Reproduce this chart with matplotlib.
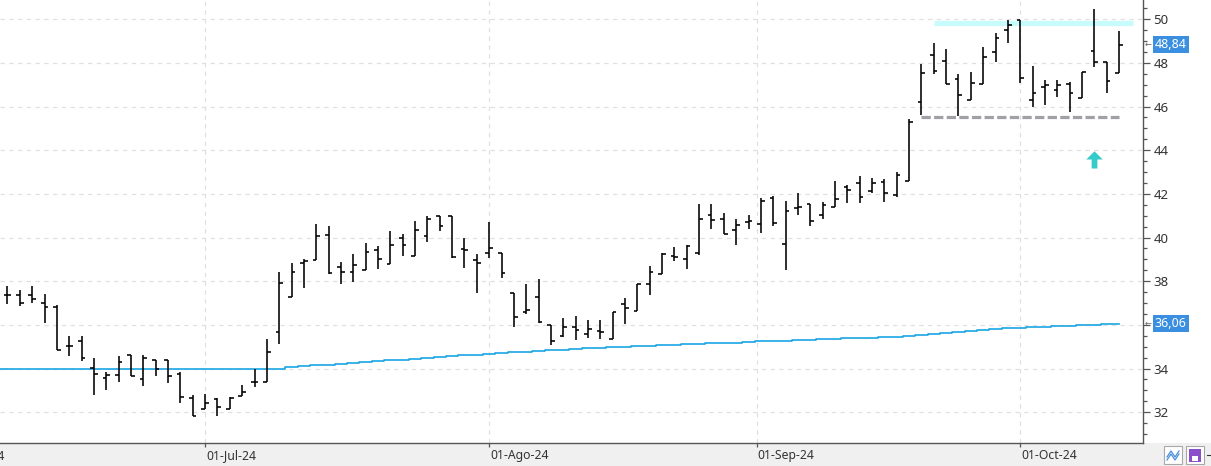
import numpy as np
import pandas as pd
import matplotlib
matplotlib.use("Agg")
import matplotlib.pyplot as plt
from matplotlib.path import Path
from matplotlib.patches import Rectangle

plt.rcParams['font.family'] = ['Noto Sans', 'DejaVu Sans']

# ---------------- data ----------------
start_date = "2024-06-07"
end_date = "2024-10-11"

opens = [37.35, 37.35, 37.35, 36.98, 36.83, 35.03, 35.26, 34.03, 33.55, 33.71,
         34.62, 33.53, 34.40, 34.40, 33.74, 32.67, 32.17, 32.60, 32.17, 32.75,
         33.40, 33.40, 35.68, 37.27, 38.82, 38.97, 40.11, 38.66, 38.44, 38.50,
         39.45, 38.80, 39.98, 39.17, 40.09, 40.97, 40.98, 39.48, 38.98, 39.27,
         39.27, 37.44, 36.60, 37.26, 35.98, 35.47, 35.92, 35.59, 35.74, 35.36,
         36.95, 36.64, 37.86, 38.32, 39.17, 39.00, 39.29, 41.02, 40.86, 40.36,
         40.73, 40.63, 41.80, 39.70, 41.34, 41.53, 41.02, 41.39, 42.32, 42.50,
         42.13, 42.56, 41.94, 42.59, 46.20, 48.35, 48.08, 47.25, 46.31, 47.02,
         48.49, 49.51, 49.97, 46.31, 46.89, 46.76, 47.04, 46.37, 48.53, 48.06,
         47.54]
highs = [37.77, 37.59, 37.77, 37.41, 36.89, 35.50, 35.47, 34.50, 33.86, 34.58,
         34.62, 34.62, 34.40, 34.40, 33.85, 32.79, 32.82, 32.63, 32.70, 33.23,
         33.96, 35.36, 38.42, 38.82, 39.00, 40.64, 40.55, 38.86, 39.24, 39.77,
         39.59, 40.32, 40.18, 40.77, 41.00, 41.00, 40.98, 39.98, 39.26, 40.73,
         39.27, 37.44, 37.85, 38.08, 35.98, 36.32, 36.39, 36.21, 36.21, 36.61,
         37.24, 37.86, 38.70, 39.27, 39.55, 39.68, 41.52, 41.55, 41.14, 40.86,
         41.02, 41.80, 41.92, 41.68, 42.03, 41.53, 41.62, 42.59, 42.41, 42.80,
         42.71, 42.68, 42.99, 45.42, 47.95, 48.90, 48.63, 47.50, 47.57, 48.72,
         49.36, 49.97, 49.97, 47.86, 47.21, 47.21, 47.13, 47.59, 50.46, 48.06,
         49.48]
lows = [36.94, 36.88, 37.02, 36.10, 34.83, 34.59, 34.33, 32.77, 33.02, 33.38,
        33.65, 33.20, 33.68, 33.35, 32.40, 31.84, 32.17, 31.84, 32.14, 32.75,
        33.17, 33.40, 35.14, 37.27, 37.69, 38.97, 38.33, 37.89, 37.98, 38.50,
        38.56, 38.80, 39.15, 39.17, 39.79, 40.29, 39.08, 38.61, 37.47, 39.06,
        38.15, 35.92, 36.52, 36.08, 35.06, 35.44, 35.33, 35.41, 35.35, 35.36,
        36.06, 36.64, 37.39, 38.32, 38.94, 38.58, 39.18, 40.39, 40.17, 39.68,
        40.41, 40.20, 40.51, 38.50, 41.01, 40.54, 40.84, 41.39, 41.60, 41.56,
        42.03, 41.65, 41.86, 42.59, 45.62, 47.50, 47.02, 45.57, 46.31, 47.02,
        48.02, 48.90, 47.10, 46.00, 46.09, 46.46, 45.73, 46.37, 47.83, 46.60,
        47.54]
closes = [37.35, 37.02, 37.20, 36.80, 34.85, 35.03, 34.47, 33.74, 33.71, 34.32,
          33.65, 34.47, 34.00, 33.68, 32.71, 31.84, 32.44, 32.22, 32.66, 32.94,
          33.40, 34.76, 37.91, 38.44, 38.92, 40.06, 38.36, 38.44, 38.74, 39.32,
          39.03, 39.68, 39.64, 40.35, 40.85, 40.53, 39.11, 39.44, 38.85, 39.53,
          38.36, 36.35, 36.68, 36.15, 35.26, 35.89, 35.77, 35.82, 35.68, 36.61,
          36.79, 37.86, 38.44, 39.24, 39.12, 39.61, 40.86, 40.82, 40.18, 40.56,
          40.76, 41.69, 40.66, 41.22, 41.39, 40.76, 41.48, 41.78, 42.16, 41.84,
          42.51, 42.03, 42.85, 45.27, 47.53, 47.62, 47.04, 46.55, 47.07, 48.29,
          49.13, 49.73, 47.30, 46.61, 46.98, 46.98, 46.60, 47.59, 48.03, 47.18,
          48.84]
moving_avg = [34.00, 34.00, 34.00, 34.00, 34.00, 34.00, 34.00, 34.00, 34.00, 34.00,
              34.00, 34.00, 34.00, 34.00, 34.00, 34.00, 34.00, 34.00, 34.00, 34.00,
              34.00, 34.00, 34.00, 34.07, 34.12, 34.15, 34.17, 34.22, 34.26, 34.31,
              34.35, 34.38, 34.41, 34.45, 34.50, 34.54, 34.58, 34.61, 34.64, 34.68,
              34.72, 34.75, 34.78, 34.81, 34.83, 34.85, 34.88, 34.92, 34.95, 34.97,
              35.00, 35.02, 35.04, 35.06, 35.08, 35.11, 35.13, 35.15, 35.17, 35.19,
              35.22, 35.24, 35.26, 35.28, 35.30, 35.32, 35.34, 35.36, 35.38, 35.40,
              35.41, 35.43, 35.45, 35.50, 35.55, 35.60, 35.64, 35.68, 35.72, 35.76,
              35.80, 35.85, 35.87, 35.89, 35.92, 35.95, 35.97, 35.99, 36.01, 36.04,
              36.06]

month_dates = ["2024-06-01", "2024-07-01", "2024-08-01", "2024-09-01", "2024-10-01"]
month_labels = ["01-Jun-24", "01-Jul-24", "01-Ago-24", "01-Sep-24", "01-Oct-24"]

support_level = 45.5
support_from, support_to = 74, 90
resistance_level = 49.83
resistance_from, resistance_to = 75, 91.1
signal_bar = 88
signal_price = 43.6

y_major = [32, 34, 36, 38, 40, 42, 44, 46, 48, 50]

# ---------------- layout ----------------
W, H = 1211, 466
fig = plt.figure(figsize=(W / 100, H / 100), dpi=100, facecolor='white')
ax_right_px, ax_bottom_px = 1143, 23
ax = fig.add_axes([0, ax_bottom_px / H, ax_right_px / W, (H - ax_bottom_px) / H])
ax.set_facecolor('white')
ax.set_zorder(2)

fig.patches.append(Rectangle((0, 0), 1, ax_bottom_px / H, transform=fig.transFigure,
                             facecolor='#f0f0f0', edgecolor='none', zorder=-5))

dates = pd.bdate_range(start_date, end_date)
n = len(dates)
x = np.arange(n)

# map month start dates onto bar index (calendar interpolation)
ext_dates = pd.bdate_range(pd.Timestamp(start_date) - pd.tseries.offsets.BDay(10), end_date)
ext_idx = np.arange(len(ext_dates)) - 10
ext_num = ext_dates.values.astype('datetime64[D]').astype(float)
mpos = [float(np.interp(np.datetime64(d, 'D').astype(float), ext_num, ext_idx)) for d in month_dates]

XMIN, XMAX = -0.607, 91.94
YMIN, YMAX = 30.59, 50.88

# grid
grid_kw = dict(color='#e0e0e0', lw=0.9, ls=(0, (3.5, 3.5)), zorder=0)
for v in y_major:
    ax.axhline(v, **grid_kw)
for p in mpos:
    if XMIN <= p <= XMAX:
        ax.axvline(p, **grid_kw)

# moving average (continues from before the first visible bar)
ma_color = '#1aa6e4'
ax.hlines(moving_avg[0], XMIN, 0, color=ma_color, lw=1.2, zorder=2)
ax.plot(x, moving_avg, color=ma_color, lw=1.2, zorder=2, drawstyle='steps-mid')

# OHLC bars
w = 0.3
bar_lw = 1.15
ax.vlines(x, lows, highs, color='black', lw=bar_lw, zorder=3)
ax.hlines(opens, x - w, x, color='black', lw=bar_lw, zorder=3)
ax.hlines(closes, x, x + w, color='black', lw=bar_lw, zorder=3)

# support (dashed grey) and resistance (cyan band)
ax.plot([support_from, support_to], [support_level, support_level], color='#a0a0a6',
        lw=2.3, dashes=(2.9, 1.05), solid_capstyle='butt', dash_capstyle='butt', zorder=2)
ax.plot([resistance_from, resistance_to], [resistance_level, resistance_level],
        color='#c8fbfb', lw=3.8, solid_capstyle='butt', zorder=1)

# up arrow signal
arrow = Path([(-1, 0), (0, 1), (1, 0), (0.35, 0), (0.35, -1.1), (-0.35, -1.1), (-0.35, 0), (-1, 0)],
             [Path.MOVETO] + [Path.LINETO] * 6 + [Path.CLOSEPOLY])
ax.plot([signal_bar], [signal_price], marker=arrow, markersize=13, color='#35cbc9',
        markeredgewidth=0, zorder=4)

# y axis on the right
ax.yaxis.tick_right()
ax.set_yticks(y_major)
ax.set_yticklabels(['' if v == 36 else str(v) for v in y_major])
ax.set_yticks(np.arange(31, 51, 0.5), minor=True)
ax.tick_params(axis='y', which='major', length=5, width=0.9, color='#555555',
               labelsize=9.5, labelcolor='#333333', pad=2.5)
ax.tick_params(axis='y', which='minor', length=3, width=0.9, color='#555555')

# x axis ticks
ax.set_xticks([p for p in mpos if XMIN <= p <= XMAX])
ax.set_xticklabels([])
ax.tick_params(axis='x', which='major', length=3, width=0.9, color='#555555')
ax.set_xlim(XMIN, XMAX)
ax.set_ylim(YMIN, YMAX)
for p, lab in zip(mpos, month_labels):
    ax.text(p + 0.08, -0.028, lab, transform=ax.get_xaxis_transform(), ha='left', va='center',
            fontsize=8.8, color='#333333', clip_on=False)

for s in ['top', 'left']:
    ax.spines[s].set_visible(False)
ax.spines['right'].set_color('#555555')
ax.spines['bottom'].set_color('#555555')
ax.spines['right'].set_linewidth(1.0)
ax.spines['bottom'].set_linewidth(1.0)

# last-value tags
def tag(val, txt):
    ax.annotate(txt, xy=(1.0, val), xycoords=('axes fraction', 'data'),
                xytext=(8.5, 0), textcoords='offset points', ha='left', va='center',
                fontsize=9, color='white', annotation_clip=False,
                bbox=dict(boxstyle='square,pad=0.15', fc='#3b8fe0', ec='none'))
    ax.annotate('\u2190', xy=(1.0, val), xycoords=('axes fraction', 'data'),
                xytext=(1.5, 0), textcoords='offset points', ha='left', va='center',
                fontsize=6, color='#666666', annotation_clip=False)

tag(closes[-1], f"{closes[-1]:.2f}".replace('.', ','))
tag(moving_avg[-1], f"{moving_avg[-1]:.2f}".replace('.', ','))

# toolbar icons bottom right
def fpx(xp, yp):
    return xp / W, yp / H
fig.patches.append(Rectangle(fpx(1164, 2), 18 / W, 18 / H, transform=fig.transFigure,
                             facecolor='white', edgecolor='#a8a8a8', lw=0.8))
fig.patches.append(Rectangle(fpx(1186, 2), 18 / W, 18 / H, transform=fig.transFigure,
                             facecolor='white', edgecolor='#a8a8a8', lw=0.8))
zx = np.array([1167, 1171, 1175, 1179]) / W
fig.add_artist(plt.Line2D(zx, np.array([9, 15, 9, 15]) / H, color='#4a8fd8', lw=0.9))
fig.add_artist(plt.Line2D(zx, np.array([6, 12, 6, 12]) / H, color='#4a8fd8', lw=0.9))
fig.patches.append(Rectangle(fpx(1189, 4), 12 / W, 13 / H, transform=fig.transFigure,
                             facecolor='#8a4fc9', edgecolor='none'))
fig.patches.append(Rectangle(fpx(1192, 5), 6 / W, 5 / H, transform=fig.transFigure,
                             facecolor='white', edgecolor='none'))
fig.add_artist(plt.Line2D(np.array([1207, 1211]) / W, np.array([11, 11]) / H, color='#333333', lw=0.8))

fig.savefig('out.png', dpi=100, facecolor=fig.get_facecolor())
